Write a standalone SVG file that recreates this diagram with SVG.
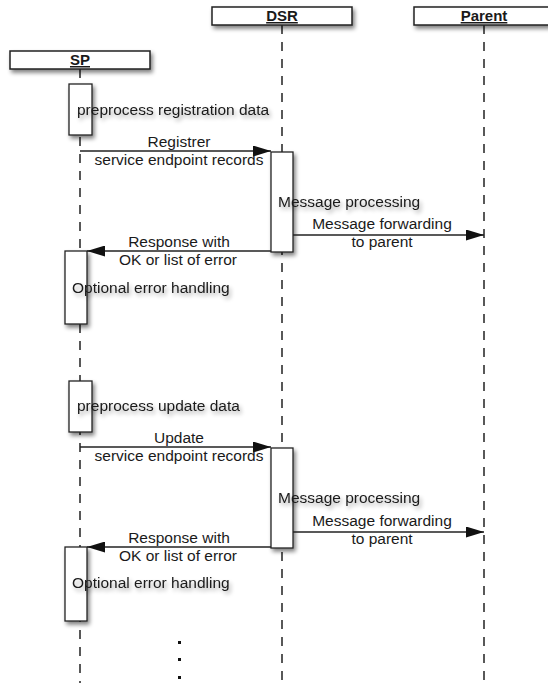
<svg xmlns="http://www.w3.org/2000/svg" width="548" height="683" viewBox="0 0 548 683">
<style>
text{font-family:"Liberation Sans",Arial,sans-serif;font-size:15.5px;fill:#1a1a1a}
.hdr{font-weight:bold;font-size:15px;text-decoration:underline}
.box{fill:#fff;stroke:#222;stroke-width:1.5;filter:url(#sh)}
.act{fill:#fff;stroke:#222;stroke-width:1.3;filter:url(#sh)}
.life{stroke:#222;stroke-width:1.5;stroke-dasharray:9 8;fill:none}
.msg{stroke:#222;stroke-width:1.3;fill:none;marker-end:url(#ah)}
.note{filter:url(#tsh)}
.c{text-anchor:middle}
</style>
<defs>
<filter id="sh" x="-50%" y="-50%" width="200%" height="200%">
<feGaussianBlur in="SourceAlpha" stdDeviation="2"/>
<feOffset dx="2" dy="3" result="b"/>
<feComponentTransfer><feFuncA type="linear" slope="0.5"/></feComponentTransfer>
<feMerge><feMergeNode/><feMergeNode in="SourceGraphic"/></feMerge>
</filter>
<filter id="tsh" x="-20%" y="-50%" width="140%" height="200%">
<feGaussianBlur in="SourceAlpha" stdDeviation="2"/>
<feOffset dx="2" dy="3" result="b"/>
<feComponentTransfer><feFuncA type="linear" slope="0.35"/></feComponentTransfer>
<feMerge><feMergeNode/><feMergeNode in="SourceGraphic"/></feMerge>
</filter>
<marker id="ah" viewBox="0 0 18 11" refX="18" refY="5.5" markerWidth="18" markerHeight="11" markerUnits="userSpaceOnUse" orient="auto">
<path d="M0,0 L18,5.5 L0,11 Z" fill="#111"/>
</marker>
</defs>
<rect width="548" height="683" fill="#fff"/>

<g id="lifelines">
<line class="life" x1="80" y1="69" x2="80" y2="683"/>
<line class="life" x1="282" y1="25" x2="282" y2="683"/>
<line class="life" x1="484" y1="25" x2="484" y2="683"/>
</g>

<g id="SP">
<rect class="box" x="10" y="51" width="140" height="18"/>
<text class="hdr c" x="80" y="65">SP</text>
</g>
<g id="DSR">
<rect class="box" x="212" y="7" width="140" height="18"/>
<text class="hdr c" x="282" y="21">DSR</text>
</g>
<g id="Parent">
<rect class="box" x="414" y="7" width="140" height="18"/>
<text class="hdr c" x="484" y="21">Parent</text>
</g>

<g id="sp-preprocess-reg">
<rect class="act" x="69" y="84" width="23" height="51"/>
<text class="note" x="77" y="115">preprocess registration data</text>
</g>
<g id="dsr-processing-1">
<rect class="act" x="271" y="152" width="22" height="100"/>
<text class="note" x="278" y="207">Message processing</text>
</g>
<g id="sp-error-1">
<rect class="act" x="65" y="251" width="22" height="73"/>
<text class="note" x="72" y="293">Optional error handling</text>
</g>
<g id="sp-preprocess-upd">
<rect class="act" x="69" y="381" width="23" height="51"/>
<text class="note" x="77" y="411">preprocess update data</text>
</g>
<g id="dsr-processing-2">
<rect class="act" x="271" y="448" width="22" height="100"/>
<text class="note" x="278" y="503">Message processing</text>
</g>
<g id="sp-error-2">
<rect class="act" x="65" y="547" width="22" height="74"/>
<text class="note" x="72" y="588">Optional error handling</text>
</g>

<g id="connectors">
<line class="msg" x1="80" y1="151" x2="271" y2="151"/>
<line class="msg" x1="293" y1="235" x2="484" y2="235"/>
<line class="msg" x1="271" y1="251" x2="87" y2="251"/>
<line class="msg" x1="80" y1="447" x2="271" y2="447"/>
<line class="msg" x1="293" y1="532" x2="484" y2="532"/>
<line class="msg" x1="271" y1="547" x2="87" y2="547"/>
</g>

<g id="labels">
<text class="c" x="179" y="147">Registrer</text>
<text class="c" x="179" y="165">service endpoint records</text>
<text class="c" x="382" y="229">Message forwarding</text>
<text class="c" x="382" y="247">to parent</text>
<text class="c" x="179" y="247">Response with</text>
<text class="c" x="178" y="265">OK or list of error</text>
<text class="c" x="179" y="443">Update</text>
<text class="c" x="179" y="461">service endpoint records</text>
<text class="c" x="382" y="526">Message forwarding</text>
<text class="c" x="382" y="544">to parent</text>
<text class="c" x="179" y="543">Response with</text>
<text class="c" x="178" y="561">OK or list of error</text>
</g>

<g id="ellipsis" fill="#111">
<rect x="178" y="641" width="3" height="3"/>
<rect x="178" y="658" width="3" height="3"/>
<rect x="178" y="676" width="3" height="3"/>
</g>
</svg>
